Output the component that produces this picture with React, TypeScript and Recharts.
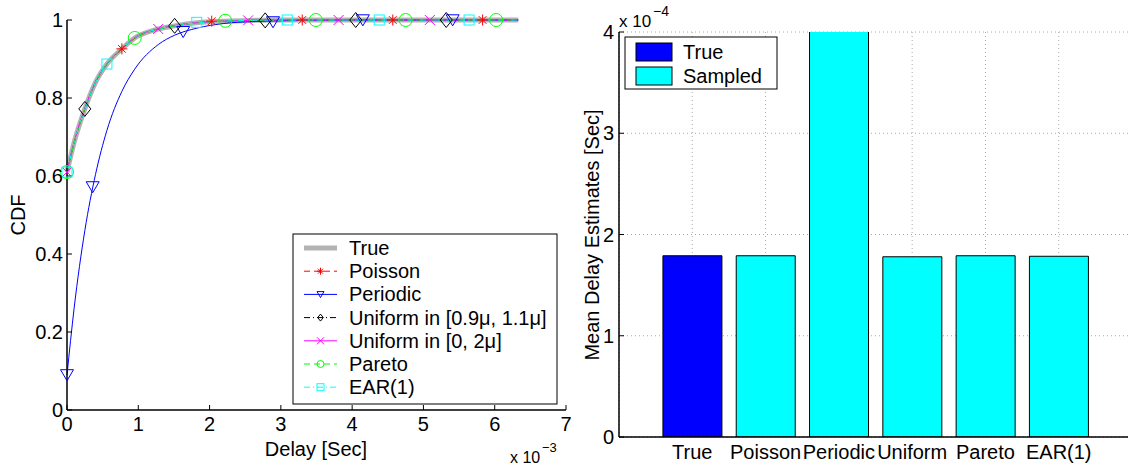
import React from "react";
import {
  ComposedChart,
  Line,
  Scatter,
  XAxis,
  YAxis,
  BarChart,
  Bar,
  Cell,
  CartesianGrid,
} from "recharts";

const FONT = "'Liberation Sans', Arial, Helvetica, sans-serif";

// delay grid shared by the CDF curves (units of 10^-3 s)
const delayMs = [0, 0.1, 0.25, 0.4, 0.56, 0.77, 0.95, 1.28, 1.51, 1.82, 2.2, 2.6, 3.0, 4.0, 5.0, 6.33];

const trueCdf = [0.61, 0.686, 0.772, 0.84, 0.887, 0.926, 0.954, 0.977, 0.985, 0.993, 0.997, 0.999, 1, 1, 1, 1];
const poissonCdf = [0.608, 0.684, 0.771, 0.839, 0.886, 0.926, 0.953, 0.976, 0.985, 0.993, 0.997, 0.999, 1, 1, 1, 1];
const periodicCdf = [0.09, 0.261, 0.46, 0.604, 0.717, 0.817, 0.874, 0.937, 0.961, 0.979, 0.991, 0.996, 0.998, 1, 1, 1];
const unifNarrowCdf = [0.61, 0.686, 0.772, 0.841, 0.887, 0.927, 0.954, 0.977, 0.985, 0.993, 0.997, 0.999, 1, 1, 1, 1];
const unifWideCdf = [0.611, 0.687, 0.773, 0.84, 0.888, 0.926, 0.955, 0.977, 0.986, 0.993, 0.997, 0.999, 1, 1, 1, 1];
const paretoCdf = [0.609, 0.685, 0.772, 0.84, 0.887, 0.925, 0.954, 0.976, 0.985, 0.992, 0.997, 0.999, 1, 1, 1, 1];
const earCdf = [0.61, 0.686, 0.771, 0.84, 0.887, 0.926, 0.954, 0.977, 0.985, 0.993, 0.997, 0.999, 1, 1, 1, 1];

// marker positions (x 10^-3 s) and CDF values
const poissonMarkX = [0.77, 2.03, 3.3, 4.57, 5.83];
const poissonMarkY = [0.926, 0.997, 1, 1, 1];
const periodicMarkX = [0, 0.36, 1.63, 2.89, 4.15, 5.41];
const periodicMarkY = [0.09, 0.572, 0.97, 0.995, 1, 1];
const unifNarrowMarkX = [0.25, 1.51, 2.78, 4.05, 5.32];
const unifNarrowMarkY = [0.772, 0.985, 0.999, 1, 1];
const unifWideMarkX = [0, 1.28, 2.54, 3.81, 5.09];
const unifWideMarkY = [0.61, 0.977, 0.999, 1, 1];
const paretoMarkX = [0, 0.95, 2.22, 3.49, 4.75, 6.02];
const paretoMarkY = [0.61, 0.954, 0.998, 1, 1, 1];
const earMarkX = [0, 0.56, 1.82, 3.09, 4.38, 5.64];
const earMarkY = [0.61, 0.887, 0.994, 1, 1, 1];

const delayTicks = [0, 1, 2, 3, 4, 5, 6, 7];
const cdfTicks = [0, 0.2, 0.4, 0.6, 0.8, 1];

// right panel
const methods = ["True", "Poisson", "Periodic", "Uniform", "Pareto", "EAR(1)"];
const meanDelay = [1.79e-4, 1.79e-4, 4.6e-4, 1.78e-4, 1.79e-4, 1.785e-4];
const meanTicks = [0, 1e-4, 2e-4, 3e-4, 4e-4];

const toPoints = (xs: number[], ys: number[]) => xs.map((x, i) => ({ x, y: ys[i] }));

type Kind = "none" | "star" | "triDown" | "diamond" | "cross" | "circle" | "square";

const SERIES: {
  name: string;
  cdf: number[];
  markX?: number[];
  markY?: number[];
  color: string;
  width: number;
  dash?: string;
  marker: Kind;
}[] = [
  { name: "True", cdf: trueCdf, color: "#b3b3b3", width: 5, marker: "none" },
  { name: "Poisson", cdf: poissonCdf, markX: poissonMarkX, markY: poissonMarkY, color: "#ff0000", width: 1, dash: "6 4", marker: "star" },
  { name: "Periodic", cdf: periodicCdf, markX: periodicMarkX, markY: periodicMarkY, color: "#0000ff", width: 1, marker: "triDown" },
  { name: "Uniform in [0.9\u03bc, 1.1\u03bc]", cdf: unifNarrowCdf, markX: unifNarrowMarkX, markY: unifNarrowMarkY, color: "#000000", width: 1, dash: "6 3 1 3", marker: "diamond" },
  { name: "Uniform in [0, 2\u03bc]", cdf: unifWideCdf, markX: unifWideMarkX, markY: unifWideMarkY, color: "#ff00ff", width: 1, marker: "cross" },
  { name: "Pareto", cdf: paretoCdf, markX: paretoMarkX, markY: paretoMarkY, color: "#00ff00", width: 1, dash: "6 4", marker: "circle" },
  { name: "EAR(1)", cdf: earCdf, markX: earMarkX, markY: earMarkY, color: "#00ffff", width: 1, dash: "6 3 1 3", marker: "square" },
];

const Marker = ({ kind, cx, cy, s, color }: { kind: Kind; cx: number; cy: number; s: number; color: string }) => {
  const p = { fill: "none", stroke: color, strokeWidth: 1 };
  switch (kind) {
    case "star":
      return (
        <g {...p}>
          <line x1={cx - s} y1={cy} x2={cx + s} y2={cy} />
          <line x1={cx} y1={cy - s} x2={cx} y2={cy + s} />
          <line x1={cx - s * 0.7} y1={cy - s * 0.7} x2={cx + s * 0.7} y2={cy + s * 0.7} />
          <line x1={cx - s * 0.7} y1={cy + s * 0.7} x2={cx + s * 0.7} y2={cy - s * 0.7} />
        </g>
      );
    case "triDown":
      return <polygon {...p} points={`${cx - s},${cy - s * 0.8} ${cx + s},${cy - s * 0.8} ${cx},${cy + s * 0.9}`} />;
    case "diamond":
      return <polygon {...p} points={`${cx},${cy - s} ${cx + s * 0.8},${cy} ${cx},${cy + s} ${cx - s * 0.8},${cy}`} />;
    case "cross":
      return (
        <g {...p}>
          <line x1={cx - s} y1={cy - s} x2={cx + s} y2={cy + s} />
          <line x1={cx - s} y1={cy + s} x2={cx + s} y2={cy - s} />
        </g>
      );
    case "circle":
      return <circle {...p} cx={cx} cy={cy} r={s} />;
    case "square":
      return <rect {...p} x={cx - s} y={cy - s} width={2 * s} height={2 * s} />;
    default:
      return null;
  }
};

const markerSize: Record<Kind, number> = {
  none: 0,
  star: 5.5,
  triDown: 6.5,
  diamond: 7.5,
  cross: 5,
  circle: 6.5,
  square: 5,
};

const axisTick = { fill: "#000", fontSize: 20, fontFamily: FONT };
const axisLine = { stroke: "#000", strokeWidth: 1.5 };

const CdfPanel = () => (
  <ComposedChart
    width={580}
    height={466}
    margin={{ top: 20, right: 14, bottom: 0, left: 0 }}
    style={{ position: "absolute", left: 0, top: 0 }}
  >
    <XAxis
      type="number"
      dataKey="x"
      domain={[0, 7]}
      ticks={delayTicks}
      interval={0}
      height={56}
      tickSize={-5}
      tickMargin={12}
      tick={axisTick}
      axisLine={axisLine}
      tickLine={{ stroke: "#000" }}
    />
    <XAxis
      xAxisId="top"
      orientation="top"
      type="number"
      domain={[0, 7]}
      ticks={delayTicks}
      height={0}
      tickSize={-5}
      tick={false}
      axisLine={axisLine}
      tickLine={{ stroke: "#000" }}
    />
    <YAxis
      type="number"
      domain={[0, 1]}
      ticks={cdfTicks}
      interval={0}
      width={67}
      tickSize={-5}
      tickMargin={9}
      tick={axisTick}
      tickFormatter={(v: number) => String(Number(v.toFixed(1)))}
      axisLine={axisLine}
      tickLine={{ stroke: "#000" }}
    />
    <YAxis
      yAxisId="right"
      orientation="right"
      type="number"
      domain={[0, 1]}
      ticks={cdfTicks}
      width={0}
      tickSize={-5}
      tick={false}
      axisLine={axisLine}
      tickLine={{ stroke: "#000" }}
    />
    {SERIES.map((s) => (
      <Line
        key={s.name}
        data={toPoints(delayMs, s.cdf)}
        dataKey="y"
        type="monotone"
        stroke={s.color}
        strokeWidth={s.width}
        strokeDasharray={s.dash}
        dot={false}
        activeDot={false}
        isAnimationActive={false}
      />
    ))}
    {SERIES.filter((s) => s.markX).map((s) => (
      <Scatter
        key={`m-${s.name}`}
        data={toPoints(s.markX!, s.markY!)}
        dataKey="y"
        isAnimationActive={false}
        shape={(props: any) => (
          <Marker kind={s.marker} cx={props.cx} cy={props.cy} s={markerSize[s.marker]} color={s.color} />
        )}
      />
    ))}
  </ComposedChart>
);

const barRows = methods.map((name, i) => ({ name, mean: meanDelay[i] }));

const MeanPanel = () => (
  <BarChart
    width={600}
    height={466}
    data={barRows}
    margin={{ top: 32, right: 28, bottom: 0, left: 0 }}
    barCategoryGap="10%"
    style={{ position: "absolute", left: 560, top: 0 }}
  >
    <CartesianGrid stroke="#aaa" strokeDasharray="1 3" />
    <XAxis
      dataKey="name"
      interval={0}
      height={29}
      padding={{ left: 36.6, right: 36.6 }}
      tickLine={false}
      tickSize={0}
      tickMargin={8}
      tick={axisTick}
      axisLine={axisLine}
    />
    <XAxis
      xAxisId="top"
      orientation="top"
      dataKey="name"
      height={0}
      padding={{ left: 36.6, right: 36.6 }}
      tickSize={-5}
      tick={false}
      axisLine={axisLine}
      tickLine={{ stroke: "#000" }}
    />
    <YAxis
      type="number"
      domain={[0, 4e-4]}
      allowDataOverflow
      ticks={meanTicks}
      interval={0}
      width={59}
      tickSize={-5}
      tickMargin={10}
      tick={axisTick}
      tickFormatter={(v: number) => String(Math.round(v * 1e4))}
      axisLine={axisLine}
      tickLine={{ stroke: "#000" }}
    />
    <Bar dataKey="mean" stroke="#000" strokeWidth={1} isAnimationActive={false}>
      {barRows.map((r, i) => (
        <Cell key={r.name} fill={i === 0 ? "#0000ff" : "#00ffff"} />
      ))}
    </Bar>
  </BarChart>
);

const Overlay = () => (
  <svg
    width={1128}
    height={466}
    style={{ position: "absolute", left: 0, top: 0, pointerEvents: "none" }}
    fontFamily={FONT}
    fontSize={20}
  >
    {/* left panel labels */}
    <text x={18} y={215} textAnchor="middle" dominantBaseline="central" transform="rotate(-90 18 215)">
      CDF
    </text>
    <text x={316} y={449} textAnchor="middle" dominantBaseline="central">
      Delay [Sec]
    </text>
    <text x={510} y={463} fontSize={16}>x 10</text>
    <text x={542} y={452} fontSize={13}>{"\u22123"}</text>

    {/* left legend */}
    <rect x={293} y={234} width={264} height={170} fill="#fff" stroke="#000" strokeWidth={1} />
    {SERIES.map((s, i) => {
      const cy = 248 + i * 23.2;
      return (
        <g key={`lg-${s.name}`}>
          <line x1={304} y1={cy} x2={337} y2={cy} stroke={s.color} strokeWidth={s.width} strokeDasharray={s.dash} />
          <Marker kind={s.marker} cx={320.5} cy={cy} s={3.5} color={s.color} />
          <text x={349} y={cy} dominantBaseline="central">
            {s.name}
          </text>
        </g>
      );
    })}

    {/* right panel labels */}
    <text x={592} y={235} textAnchor="middle" dominantBaseline="central" transform="rotate(-90 592 235)">
      Mean Delay Estimates [Sec]
    </text>
    <text x={619} y={27} fontSize={17}>x 10</text>
    <text x={653} y={16} fontSize={14}>{"\u22124"}</text>

    {/* right legend */}
    <rect x={625} y={37} width={152} height={52} fill="#fff" stroke="#000" strokeWidth={1} />
    <rect x={636} y={43} width={36} height={18} fill="#0000ff" stroke="#000" strokeWidth={1} />
    <rect x={636} y={67} width={36} height={18} fill="#00ffff" stroke="#000" strokeWidth={1} />
    <text x={683} y={52} dominantBaseline="central">True</text>
    <text x={683} y={76} dominantBaseline="central">Sampled</text>
  </svg>
);

export default function App() {
  return (
    <div
      style={{
        position: "fixed",
        left: 0,
        top: 0,
        width: 1128,
        height: 466,
        overflow: "hidden",
        background: "#fff",
        fontFamily: FONT,
      }}
    >
      <CdfPanel />
      <MeanPanel />
      <Overlay />
    </div>
  );
}
